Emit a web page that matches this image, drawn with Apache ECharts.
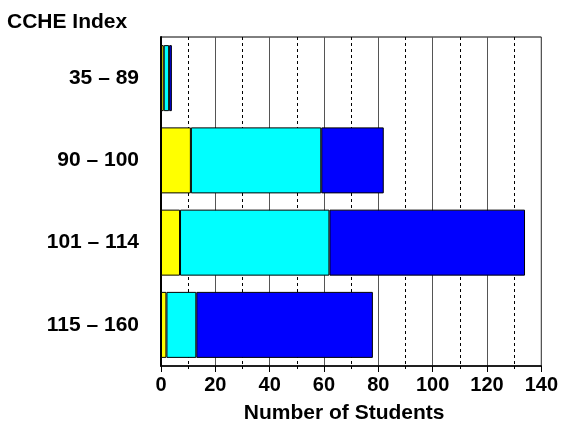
<!DOCTYPE html>
<html>
<head>
<meta charset="utf-8">
<script src="https://cdn.jsdelivr.net/npm/echarts@6/dist/echarts.min.js"></script>
<style>
html,body{margin:0;padding:0;background:#fff;}
#c{width:561px;height:431px;}
</style>
</head>
<body>
<div id="c"></div>
<script>
const categories = ['35 \u2013 89', '90 \u2013 100', '101 \u2013 114', '115 \u2013 160'];
const yellowValues = [1, 11, 7, 2];
const cyanValues = [2, 48, 55, 11];
const blueValues = [1, 23, 72, 65];
const xTicks = [0, 20, 40, 60, 80, 100, 120, 140];

const FONT = '"Liberation Sans", Arial, sans-serif';
const chart = echarts.init(document.getElementById('c'), null, {renderer: 'canvas'});

function mk(name, data, color) {
  return {
    name: name, type: 'bar', stack: 'total', data: data,
    barWidth: 66,
    itemStyle: {color: color, borderColor: '#000', borderWidth: 1},
    emphasis: {disabled: true}
  };
}

chart.setOption({
  animation: false,
  backgroundColor: '#fff',
  title: {
    text: 'CCHE Index', left: 2, top: 7,
    textStyle: {fontFamily: FONT, fontWeight: 'bold', fontSize: 21, color: '#000'}
  },
  grid: {left: 161, right: 19, top: 37, bottom: 65, show: true, borderColor: '#000', borderWidth: 1, containLabel: false},
  xAxis: {
    type: 'value', min: xTicks[0], max: xTicks[xTicks.length - 1], interval: 20,
    name: 'Number of Students', nameLocation: 'middle', nameGap: 37,
    nameTextStyle: {fontFamily: FONT, fontWeight: 'bold', fontSize: 21, color: '#000', padding: [0, 14, 0, 0]},
    axisLine: {show: true, lineStyle: {color: '#000', width: 1.5}},
    axisTick: {show: true, length: 6, lineStyle: {color: '#000'}},
    minorTick: {show: true, splitNumber: 2, length: 3, lineStyle: {color: '#000'}},
    axisLabel: {fontFamily: FONT, fontWeight: 'bold', fontSize: 20, color: '#000', margin: 9},
    splitLine: {show: true, lineStyle: {color: '#555', width: 1, type: 'solid'}},
    minorSplitLine: {show: true, lineStyle: {color: '#000', width: 1, type: [3, 3]}}
  },
  yAxis: {
    type: 'category', data: categories, inverse: true,
    axisLine: {show: true, lineStyle: {color: '#000', width: 2}},
    axisTick: {show: false},
    axisLabel: {fontFamily: FONT, fontWeight: 'bold', fontSize: 21, color: '#000', margin: 22},
    splitLine: {show: false}
  },
  series: [
    mk('Yellow', yellowValues, '#ffff00'),
    mk('Cyan', cyanValues, '#00ffff'),
    mk('Blue', blueValues, '#0000ff')
  ]
});
</script>
</body>
</html>
